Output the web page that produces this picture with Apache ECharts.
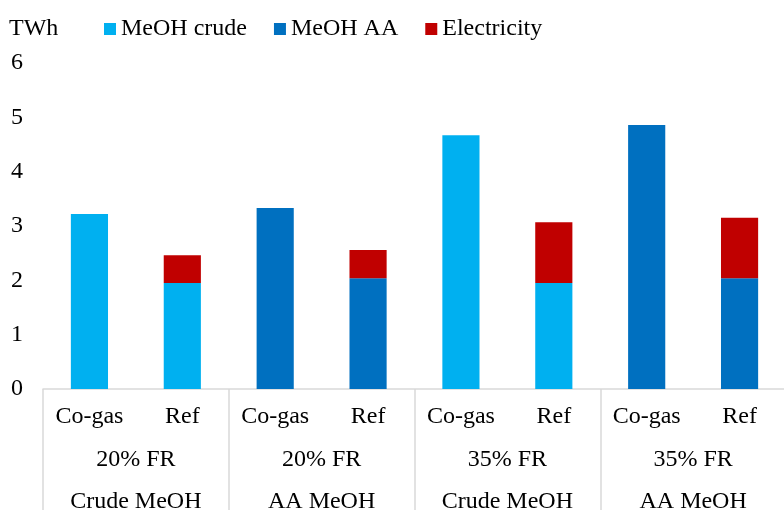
<!DOCTYPE html>
<html>
<head>
<meta charset="utf-8">
<script src="https://cdn.jsdelivr.net/npm/echarts@6/dist/echarts.min.js"></script>
<style>
  html, body { margin: 0; padding: 0; background: #fff; }
  #chart { width: 784px; height: 510px; }
</style>
</head>
<body>
<div id="chart"></div>
<script>
// chart values
const cases = ["Co-gas", "Ref", "Co-gas", "Ref", "Co-gas", "Ref", "Co-gas", "Ref"];
const fuelRates = ["20% FR", "20% FR", "35% FR", "35% FR"];
const products = ["Crude MeOH", "AA MeOH", "Crude MeOH", "AA MeOH"];
const meohCrude = [3.22, 1.95, "-", "-", 4.67, 1.95, "-", "-"];
const meohAA = ["-", "-", 3.33, 2.04, "-", "-", 4.86, 2.04];
const electricity = ["-", 0.51, "-", 0.52, "-", 1.12, "-", 1.11];
const yTicks = [0, 6, 1]; // min, max, interval

const font = "Liberation Serif, Times New Roman, serif";
const grey = "#d9d9d9";
const fs = 24;

const chart = echarts.init(document.getElementById("chart"));

chart.setOption({
  animation: false,
  textStyle: { fontFamily: font, color: "#000" },
  title: {
    text: "TWh",
    left: 9,
    top: 17,
    padding: 0,
    textStyle: { fontFamily: font, fontSize: fs, fontWeight: "normal", color: "#000" }
  },
  legend: {
    left: 104,
    top: 17,
    padding: 0,
    itemWidth: 12,
    itemHeight: 12,
    itemGap: 27,
    icon: "rect",
    textStyle: { fontFamily: font, fontSize: fs, color: "#000" },
    data: ["MeOH crude", "MeOH AA", "Electricity"]
  },
  // right edge sits just past the canvas, so the last separator is cut off like in the original
  grid: { left: 43, right: -2, top: 63, bottom: 121, containLabel: false, outerBoundsMode: "none" },
  xAxis: [
    {
      type: "category",
      data: cases,
      axisLine: { show: true, lineStyle: { color: grey, width: 1.5 } },
      axisTick: { show: false },
      axisLabel: { fontFamily: font, fontSize: fs, color: "#000", margin: 16, interval: 0 }
    },
    {
      // group separators run from the axis down through all label rows
      type: "category",
      data: fuelRates,
      position: "bottom",
      axisLine: { show: false },
      axisTick: { show: true, length: 130, lineStyle: { color: grey, width: 1.5 } },
      axisLabel: { fontFamily: font, fontSize: fs, color: "#000", margin: 59 }
    },
    {
      type: "category",
      data: products,
      position: "bottom",
      axisLine: { show: false },
      axisTick: { show: false },
      axisLabel: { fontFamily: font, fontSize: fs, color: "#000", margin: 101 }
    }
  ],
  yAxis: {
    type: "value",
    min: yTicks[0],
    max: yTicks[1],
    interval: yTicks[2],
    axisLine: { show: false },
    axisTick: { show: false },
    splitLine: { show: false },
    axisLabel: { fontFamily: font, fontSize: fs, color: "#000", margin: 20, align: "right" }
  },
  series: [
    {
      name: "MeOH crude",
      type: "bar",
      stack: "total",
      barWidth: "40%",
      itemStyle: { color: "#00B0F0" },
      data: meohCrude
    },
    {
      name: "MeOH AA",
      type: "bar",
      stack: "total",
      barWidth: "40%",
      itemStyle: { color: "#0070C0" },
      data: meohAA
    },
    {
      name: "Electricity",
      type: "bar",
      stack: "total",
      barWidth: "40%",
      itemStyle: { color: "#C00000" },
      data: electricity
    }
  ]
});
</script>
</body>
</html>
